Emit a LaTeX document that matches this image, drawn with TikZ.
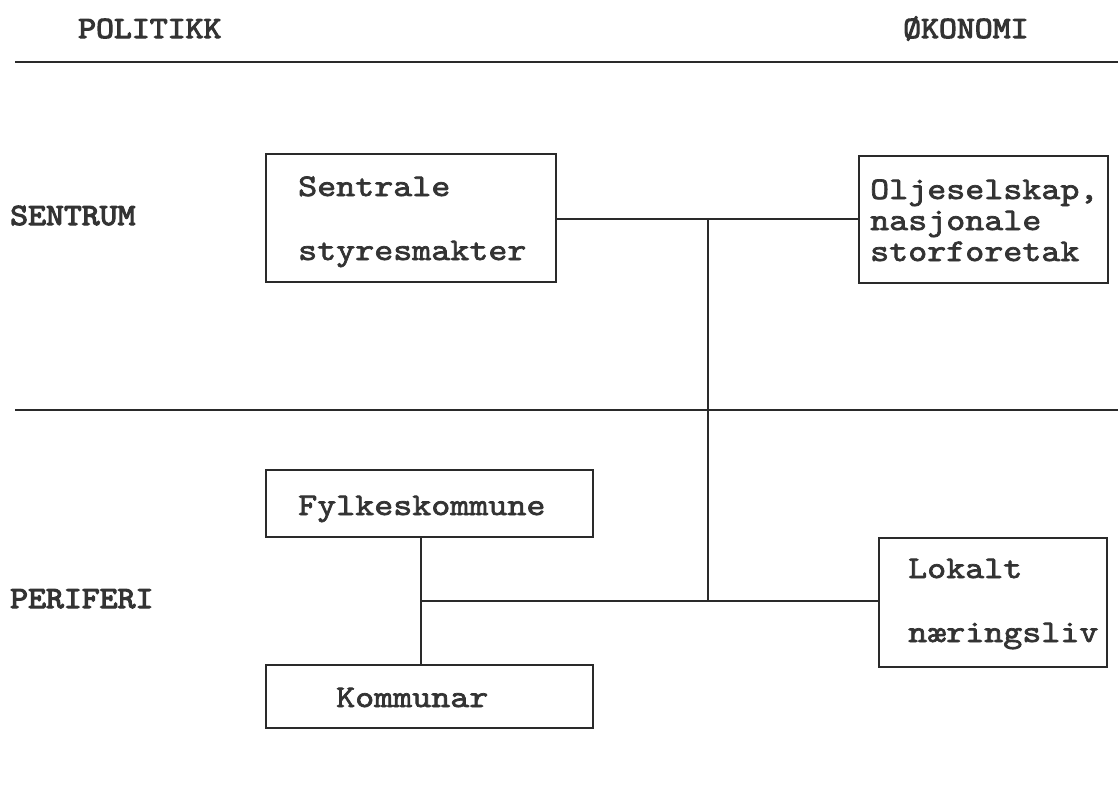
\documentclass[tikz,border=0pt]{standalone}
\usepackage{fontspec}
\newfontfamily\tw{lmmono10-regular.otf}[FakeStretch=1.15,FakeBold=2.2]
\newfontfamily\twb{lmmono10-regular.otf}[FakeStretch=1.1,FakeBold=3.5]
\definecolor{ink}{HTML}{333333}
\definecolor{rule}{HTML}{2A2A2A}
\begin{document}
\begin{tikzpicture}[x=1pt,y=-1pt,
  lbl/.style={font=\tw\fontsize{31.5}{31.5}\selectfont, text=ink, inner sep=0pt, anchor=base west},
  head/.style={font=\twb\fontsize{31}{31}\selectfont, text=ink, inner sep=0pt, anchor=base west},
  box/.style={draw=rule, line width=1.8pt, inner sep=0pt},
  conn/.style={draw=rule, line width=1.6pt}]
\useasboundingbox (0,0) rectangle (1118,787);

% headings and rules
\node[head] (politikk) at (78,38) {POLITIKK};
\node[head] (okonomi) at (903,38) {ØKONOMI};
\coordinate (r1a) at (15,62);   \coordinate (r1b) at (1118,62);
\coordinate (r2a) at (15,410);  \coordinate (r2b) at (1118,410);
\draw[conn] (r1a) -- (r1b);
\draw[conn] (r2a) -- (r2b);
\node[head] (sentrum) at (10,225) {SENTRUM};
\node[head] (periferi) at (10,608) {PERIFERI};

% boxes
\node[box, minimum width=290pt, minimum height=128pt] (sb) at (411,218) {};
\node[box, minimum width=249pt, minimum height=127pt] (ob) at (983.5,219.5) {};
\node[box, minimum width=327pt, minimum height=67pt] (fb) at (429.5,503.5) {};
\node[box, minimum width=327pt, minimum height=63pt] (kb) at (429.5,696.5) {};
\node[box, minimum width=228pt, minimum height=129pt] (lb) at (993,602.5) {};

% box texts
\node[lbl] (sb1) at (298,196) {Sentrale};
\node[lbl] (sb2) at (298,260) {styresmakter};
\node[lbl] (ob1) at (870,199) {Oljeselskap,};
\node[lbl] (ob2) at (870,230) {nasjonale};
\node[lbl] (ob3) at (870,261) {storforetak};
\node[lbl] (fb1) at (298,515) {Fylkeskommune};
\node[lbl] (kb1) at (336,707) {Kommunar};
\node[lbl] (lb1) at (908,578) {Lokalt};
\node[lbl] (lb2) at (908,642) {næringsliv};

% connectors
\coordinate (j1) at (708,219);
\coordinate (j2) at (708,601);
\coordinate (h0) at (421,601);
\draw[conn] (sb.east |- j1) -- (ob.west |- j1);
\draw[conn] (j1) -- (j2);
\draw[conn] (fb.south -| h0) -- (kb.north -| h0);
\draw[conn] (h0) -- (lb.west |- h0);
\end{tikzpicture}
\end{document}
